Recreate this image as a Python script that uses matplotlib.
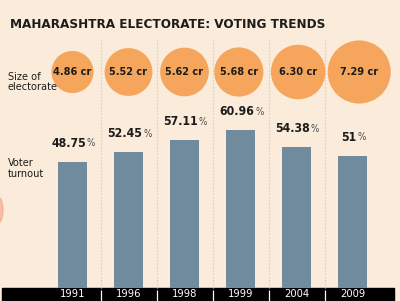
import matplotlib
matplotlib.use('Agg')
import matplotlib.pyplot as plt
from matplotlib.patches import Rectangle, Ellipse

# Data
years = ['1991', '1996', '1998', '1999', '2004', '2009']
electorate_cr = [4.86, 5.52, 5.62, 5.68, 6.30, 7.29]
turnout_pct = [48.75, 52.45, 57.11, 60.96, 54.38, 51]
turnout_labels = ['48.75', '52.45', '57.11', '60.96', '54.38', '51']

BG = '#fbebda'
ORANGE = '#f5a65c'
BAR = '#708b9c'
DARK = '#1c1c1c'

plt.rcParams['font.family'] = ['DejaVu Sans']
plt.rcParams['font.stretch'] = 'condensed'

W, H = 400, 301
fig = plt.figure(figsize=(W / 100, H / 100), dpi=100, facecolor=BG)

# bar axes: 6 slots of 56 px, baseline at 288 px from top, 2.585 px per %
ax = fig.add_axes([44.5 / W, 13 / H, 336 / W, 258.5 / H])
ax.set_xlim(-0.5, 5.5)
ax.set_ylim(0, 100)
ax.axis('off')

x = list(range(len(years)))
px = 100 / 258.5  # data units per pixel (vertical)

# faint dotted separators
ax.vlines([i + 0.5 for i in x[:-1]], 0, 96, colors='#e2cbb3',
          linestyles=(0, (1.5, 1.5)), linewidth=0.8, clip_on=False)

# bars
ax.bar(x, turnout_pct, width=0.52, color=BAR, zorder=2)
for i, (v, lab) in enumerate(zip(turnout_pct, turnout_labels)):
    t = ax.annotate(lab, (i, v), xytext=(-2.5, 13.5), textcoords='offset points',
                    ha='center', va='center', fontsize=8.8, fontweight='bold',
                    color=DARK)
    ax.annotate('%', xy=(1, 0.5), xycoords=t, xytext=(0.4, 0),
                textcoords='offset points', ha='left', va='center',
                fontsize=7, color='#4a4a4a')

# electorate circles, radius proportional to size
circle_y = (288 - 72) * px
offsets = [0, 0, 0, -0.03, 0.03, 0.12]
diam_pt = [2 * 4.33 * v * 0.72 for v in electorate_cr]
cx = [i + o for i, o in zip(x, offsets)]
ax.scatter(cx, [circle_y] * 6, s=[d ** 2 for d in diam_pt], color=ORANGE,
           edgecolors='none', clip_on=False, zorder=3)
for xi, v in zip(cx, electorate_cr):
    ax.text(xi, circle_y, f'{v:.2f} cr', ha='center', va='center',
            fontsize=7.8, fontweight='bold', color=DARK, zorder=4)

# black year strip at the bottom
strip_h = 13 * px
ax.add_patch(Rectangle((-0.5 - 42.5 / 56, -strip_h - 1), 7, strip_h + 1,
                       color='black', clip_on=False, zorder=1))
ax.vlines([i + 0.5 for i in x[:-1]], -strip_h, -0.6, colors='white',
          linewidth=0.9, clip_on=False, zorder=2)
for i, yr in enumerate(years):
    ax.text(i, -6 * px, yr, ha='center', va='center', fontsize=8,
            color='white', zorder=3)

# title and side labels
fig.text(10 / W, 1 - 24.5 / H, 'MAHARASHTRA ELECTORATE: VOTING TRENDS',
         ha='left', va='center', fontsize=9.6, fontweight='bold', color=DARK)
fig.text(8 / W, 1 - 82 / H, 'Size of\nelectorate', ha='left', va='center',
         fontsize=7.8, color=DARK, linespacing=1.1)
fig.text(8 / W, 1 - 168.5 / H, 'Voter\nturnout', ha='left', va='center',
         fontsize=7.8, color=DARK, linespacing=1.1)

# faint cut-off marker at the left edge
fig.patches.append(Ellipse((-2 / W, 1 - 210 / H), 10 / W, 26 / H,
                           transform=fig.transFigure, color='#f0a088',
                           alpha=0.6, figure=fig))

fig.savefig('out.png', dpi=100, facecolor=BG)
